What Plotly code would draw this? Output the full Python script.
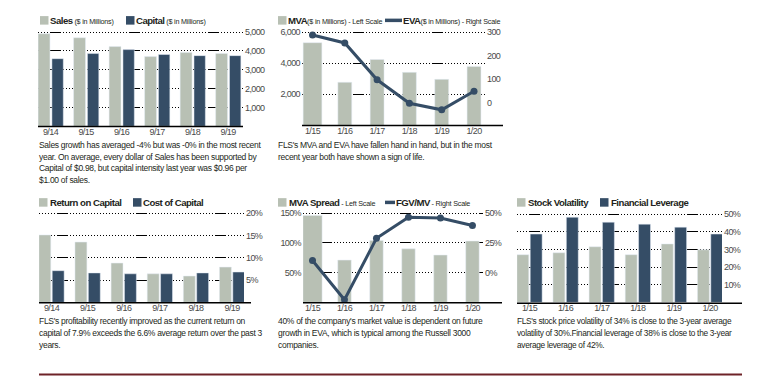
import plotly.graph_objects as go

W, H = 782, 379
FONT = "Liberation Sans, Arial, sans-serif"
GRAY = "#b8c0b4"
NAVY = "#354d66"
TICK = "#4a4a4a"
TXT = "#231f20"

# ---------------- data ----------------
tl_cats = ["9/14", "9/15", "9/16", "9/17", "9/18", "9/19"]
sales = [4910, 4700, 4230, 3700, 3910, 3860]
capital = [3590, 3860, 4070, 3810, 3750, 3750]

tm_cats = ["1/15", "1/16", "1/17", "1/18", "1/19", "1/20"]
mva = [5320, 2770, 4240, 3410, 2960, 3790]
eva = [288, 254, 97, -3, -31, 48]

bl_cats = ["9/14", "9/15", "9/16", "9/17", "9/18", "9/19"]
roc = [15.1, 13.5, 8.8, 6.4, 5.9, 7.9]
coc = [7.1, 6.6, 6.4, 6.4, 6.6, 6.8]

bm_cats = ["1/15", "1/16", "1/17", "1/18", "1/19", "1/20"]
mva_spread = [146, 71, 104, 90, 79.5, 103]
fgv_mv = [10, -23, 28.7, 46.4, 45.8, 39.5]

br_cats = ["1/15", "1/16", "1/17", "1/18", "1/19", "1/20"]
volatility = [27.0, 28.1, 31.5, 27.0, 33.1, 29.8]
leverage = [38.7, 48.2, 45.4, 44.3, 42.6, 38.7]

tl_ticks = [1000, 2000, 3000, 4000, 5000]
tl_ticktext = ["1,000", "2,000", "3,000", "4,000", "5,000"]
tm_left_ticks = [2000, 4000, 6000]
tm_left_ticktext = ["2,000", "4,000", "6,000"]
tm_right_ticks = [0, 100, 200, 300]
tm_right_ticktext = ["0", "100", "200", "300"]
bl_ticks = [5, 10, 15, 20]
bl_ticktext = ["5%", "10%", "15%", "20%"]
bm_left_ticks = [50, 100, 150]
bm_left_ticktext = ["50%", "100%", "150%"]
bm_right_ticks = [0, 25, 50]
bm_right_ticktext = ["0%", "25%", "50%"]
br_ticks = [10, 20, 30, 40, 50]
br_ticktext = ["10%", "20%", "30%", "40%", "50%"]

captions = {
    "tl": ["Sales growth has averaged -4% but was -0% in the most recent",
           "year. On average, every dollar of Sales has been supported by",
           "Capital of $0.98, but capital intensity last year was $0.96 per",
           "$1.00 of sales."],
    "tm": ["FLS's MVA and EVA have fallen hand in hand, but in the most",
           "recent year both have shown a sign of life."],
    "bl": ["FLS's profitability recently improved as the current return on",
           "capital of 7.9% exceeds the 6.6% average return over the past 3",
           "years."],
    "bm": ["40% of the company's market value is dependent on future",
           "growth in EVA, which is typical among the Russell 3000",
           "companies."],
    "br": ["FLS's stock price volatility of 34% is close to the 3-year average",
           "volatility of 30%.Financial leverage of 38% is close to the 3-year",
           "average leverage of 42%."],
}


# ---------------- helpers ----------------
def tight(s, ls=-0.6):
    return f"<span style='letter-spacing:{ls}px'>{s}</span>"


def dom_x(a, b):
    return [a / W, b / W]


def dom_y(top, bottom):
    return [1 - bottom / H, 1 - top / H]


def grid_dash(phase, period=79):
    ka = max(0, round(phase / 3))
    kb = max(0, (period - 13) // 3 - ka)
    parts = [1, 2] * ka + [11, 2] + [1, 2] * kb
    return ",".join(f"{p}px" for p in parts)


def xaxis(dom, rng, anchor, cats):
    return dict(domain=dom, range=rng, type="category", anchor=anchor,
                tickmode="array", tickvals=cats,
                ticktext=[tight(c) for c in cats],
                showgrid=False, zeroline=False, showline=False, ticks="",
                ticklabelstandoff=-1,
                tickfont=dict(family=FONT, size=9, color=TICK),
                fixedrange=True)


def yaxis(dom, rng, anchor, ticks, ticktext, side, grid=True, phase=0,
          overlaying=None):
    d = dict(domain=dom, range=rng, anchor=anchor, side=side,
             tickmode="array", tickvals=ticks,
             ticktext=[tight(t) for t in ticktext],
             showgrid=grid, gridcolor="#000000", gridwidth=1,
             griddash=grid_dash(phase), zeroline=False, showline=False,
             ticks="", ticklabelstandoff=1,
             tickfont=dict(family=FONT, size=9, color=TICK),
             fixedrange=True)
    if overlaying:
        d["overlaying"] = overlaying
        d.pop("domain")
    return d


fig = go.Figure()

# ---------- Top-left: Sales / Capital ----------
fig.add_bar(x=tl_cats, y=sales, marker_color=GRAY, width=0.335, offset=-0.35,
            xaxis="x", yaxis="y", showlegend=False)
fig.add_bar(x=tl_cats, y=capital, marker_color=NAVY, width=0.32, offset=0.04,
            xaxis="x", yaxis="y", showlegend=False)

# ---------- Top-middle: MVA / EVA ----------
fig.add_bar(x=tm_cats, y=mva, marker_color=GRAY,
            width=[0.58, 0.43, 0.43, 0.43, 0.43, 0.43],
            xaxis="x2", yaxis="y2", showlegend=False)
fig.add_scatter(x=tm_cats, y=eva, mode="lines+markers",
                line=dict(color=NAVY, width=3),
                marker=dict(color=NAVY, size=7),
                xaxis="x2", yaxis="y3", showlegend=False)

# ---------- Bottom-left: ROC / COC ----------
fig.add_bar(x=bl_cats, y=roc, marker_color=GRAY, width=0.33, offset=-0.35,
            xaxis="x3", yaxis="y4", showlegend=False)
fig.add_bar(x=bl_cats, y=coc, marker_color=NAVY, width=0.33, offset=0.02,
            xaxis="x3", yaxis="y4", showlegend=False)

# ---------- Bottom-middle: MVA Spread / FGV-MV ----------
fig.add_bar(x=bm_cats, y=mva_spread, marker_color=GRAY,
            width=[0.6, 0.42, 0.42, 0.42, 0.42, 0.42],
            xaxis="x4", yaxis="y5", showlegend=False)
fig.add_scatter(x=bm_cats, y=fgv_mv, mode="lines+markers",
                line=dict(color=NAVY, width=3),
                marker=dict(color=NAVY, size=7),
                xaxis="x4", yaxis="y6", showlegend=False)

# ---------- Bottom-right: Volatility / Leverage ----------
fig.add_bar(x=br_cats, y=volatility, marker_color=GRAY, width=0.33,
            offset=-0.35, xaxis="x5", yaxis="y7", showlegend=False)
fig.add_bar(x=br_cats, y=leverage, marker_color=NAVY, width=0.33,
            offset=0.02, xaxis="x5", yaxis="y7", showlegend=False)

TL_Y = dom_y(27, 124.3)
TM_Y = dom_y(27, 123.3)
B_Y = dom_y(209, 301.8)

layout = dict(
    width=W, height=H, margin=dict(l=0, r=0, t=0, b=0), autosize=False,
    paper_bgcolor="white", plot_bgcolor="rgba(0,0,0,0)",
    barmode="overlay", showlegend=False,
    xaxis=xaxis(dom_x(38, 243), [-0.352, 5.42], "y", tl_cats),
    yaxis=yaxis(TL_Y, [0, 5121], "x", tl_ticks, tl_ticktext, "right",
                phase=12),
    xaxis2=xaxis(dom_x(302, 485), [-0.325, 5.34], "y2", tm_cats),
    yaxis2=yaxis(TM_Y, [0, 6150], "x2", tm_left_ticks, tm_left_ticktext,
                 "left", phase=51),
    yaxis3=yaxis(None, [-97, 310], "x2", tm_right_ticks, tm_right_ticktext,
                 "right", grid=False, overlaying="y2"),
    xaxis3=xaxis(dom_x(39, 244), [-0.346, 5.33], "y4", bl_cats),
    yaxis4=yaxis(B_Y, [0, 20.6], "x3", bl_ticks, bl_ticktext, "right",
                 phase=19),
    xaxis4=xaxis(dom_x(303, 483), [-0.297, 5.33], "y5", bm_cats),
    yaxis5=yaxis(B_Y, [0, 154.5], "x4", bm_left_ticks, bm_left_ticktext,
                 "left", phase=19),
    yaxis6=yaxis(None, [-25.25, 52.25], "x4", bm_right_ticks,
                 bm_right_ticktext, "right", grid=False, overlaying="y5"),
    xaxis5=xaxis(dom_x(517, 722), [-0.346, 5.33], "y7", br_cats),
    yaxis7=yaxis(B_Y, [0, 52.1], "x5", br_ticks, br_ticktext, "right",
                 phase=13),
)
fig.update_layout(**layout)

shapes = []
annotations = []


def hline(x0, x1, y, color="#000000", width=1.5):
    shapes.append(dict(type="line", xref="paper", yref="paper",
                       x0=x0 / W, x1=x1 / W, y0=1 - y / H, y1=1 - y / H,
                       line=dict(color=color, width=width)))


def square(x0, y_mid, color):
    shapes.append(dict(type="rect", xref="paper", yref="paper",
                       x0=x0 / W, x1=(x0 + 8.5) / W,
                       y0=1 - (y_mid + 4.3) / H, y1=1 - (y_mid - 4.3) / H,
                       fillcolor=color, line=dict(width=0)))


def label(x, y, bold, small=""):
    t = f"<span style='letter-spacing:-0.5px'><b>{bold}</b></span>"
    if small:
        t += (f"<span style='font-size:7.2px;letter-spacing:-0.2px'>"
              f"{small}</span>")
    annotations.append(dict(xref="paper", yref="paper", x=x / W, y=1 - y / H,
                            xanchor="left", yanchor="middle", showarrow=False,
                            text=t, borderpad=0,
                            font=dict(family=FONT, size=9.6, color=TXT)))


def caption(lines, x, y0, size=8.5, ls=-0.3, step=11.8):
    for i, ln in enumerate(lines):
        annotations.append(dict(xref="paper", yref="paper", x=x / W,
                                y=1 - (y0 + i * step) / H, xanchor="left",
                                yanchor="middle", showarrow=False, borderpad=0,
                                text=tight(ln, ls),
                                font=dict(family=FONT, size=size, color=TXT)))


# axis base lines
hline(38, 243, 124.6)
hline(302, 503, 123.6)
hline(39, 251, 302.1)
hline(303, 502, 302.1)
hline(517, 742, 302.6)
# red rule at bottom
hline(39, 742, 374.5, color="#6e2328", width=2)

# legends
square(40, 17.5, GRAY)
label(49, 18, "Sales", " ($ in Millions)")
square(126, 17.5, NAVY)
label(134.5, 18, "Capital", " ($ in Millions)")

square(278, 17.5, GRAY)
label(286.5, 18, "MVA", "($ in Millions) - Left Scale")
hline(385, 402, 17.5, color=NAVY, width=3.5)
label(401.5, 18, "EVA", "($ in Millions) - Right Scale")

square(39, 201, GRAY)
label(48.5, 201.5, "Return on Capital")
square(133, 201, NAVY)
label(141.5, 201.5, "Cost of Capital")

square(278, 201, GRAY)
label(287.5, 201.5, "MVA Spread", " - Left Scale")
hline(385, 395, 201, color=NAVY, width=3.5)
label(394.5, 201.5, "FGV/MV", " - Right Scale")

square(517, 201, GRAY)
label(526.5, 201.5, "Stock Volatility")
square(600, 201, NAVY)
label(609.5, 201.5, "Financial Leverage")

caption(captions["tl"], 38, 143)
caption(captions["tm"], 277, 143)
caption(captions["bl"], 38, 321)
caption(captions["bm"], 277, 321)
caption(captions["br"], 516, 321, size=8.3)

fig.update_layout(shapes=shapes, annotations=annotations)
fig.write_html("out.html", config={"displayModeBar": False},
               post_script="document.body.style.margin='0px';")
